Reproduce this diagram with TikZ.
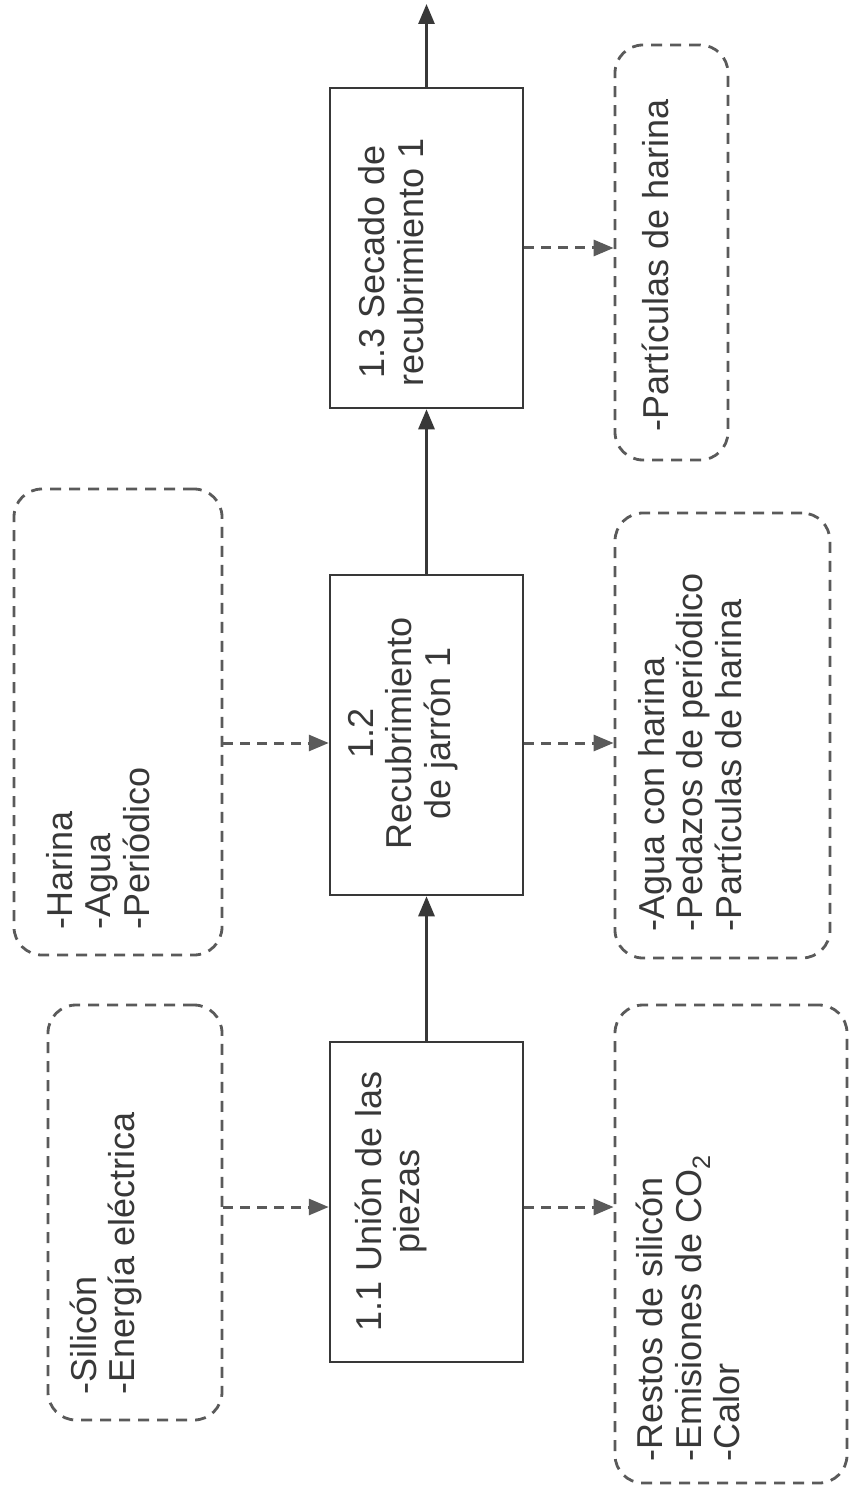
\documentclass[tikz,border=0pt]{standalone}
\usepackage{fontspec}
\setmainfont{Liberation Sans}
\usetikzlibrary{arrows.meta}
\definecolor{ink}{HTML}{383838}
\definecolor{dashgray}{HTML}{5A5A5A}
\begin{document}
\begin{tikzpicture}[x=1pt,y=-1pt,
  procbox/.style={draw=ink,line width=2.5pt,minimum width=193pt,minimum height=320pt,inner sep=0pt},
  flowbox/.style={draw=dashgray,line width=2.8pt,dash pattern=on 11pt off 8pt,rounded corners=28pt,inner sep=0pt},
  txt/.style={rotate=90,font=\fontsize{36}{38.5}\selectfont,text=ink,inner sep=0pt},
  mainarrow/.style={draw=ink,line width=2.8pt,-{Triangle[length=20pt,width=16pt]}},
  dasharrow/.style={draw=dashgray,line width=3pt,dash pattern=on 10pt off 7pt,-{Triangle[length=20pt,width=16pt]}}
]
\useasboundingbox[fill=white] (0,0) rectangle (850,1495);
% process boxes
\node[procbox] (p11) at (426.5,1202) {};
\node[procbox] (p12) at (426.5,735) {};
\node[procbox] (p13) at (426.5,248) {};
\node[txt,align=center] (t11) at (391,1201) {1.1 Unión de las\\piezas};
\node[txt,align=center] (t12) at (403,733) {1.2\\Recubrimiento\\de jarrón 1};
\node[txt,align=center] (t13) at (391,262) {1.3 Secado de\\recubrimiento 1};
% input boxes
\node[flowbox,minimum width=174pt,minimum height=415pt] (in1) at (135,1212.5) {};
\node[flowbox,minimum width=208pt,minimum height=466pt] (in2) at (118,722) {};
% output boxes
\node[flowbox,minimum width=232pt,minimum height=478pt] (out1) at (731,1244) {};
\node[flowbox,minimum width=215pt,minimum height=445pt] (out2) at (722.5,735.5) {};
\node[flowbox,minimum width=113pt,minimum height=415pt] (out3) at (671.5,252.5) {};
% texts of flow boxes
\node[txt,align=left,anchor=west] (ti1) at (106,1395) {-Silicón\\-Energía eléctrica};
\node[txt,align=left,anchor=west] (ti2) at (98,930) {-Harina\\-Agua\\-Periódico};
\node[txt,align=left,anchor=west] (to1) at (688,1462) {-Restos de silicón\\-Emisiones de CO\textsubscript{2}\\-Calor};
\node[txt,align=left,anchor=west] (to2) at (690,932) {-Agua con harina\\-Pedazos de periódico\\-Partículas de harina};
\node[txt,align=left,anchor=west] (to3) at (655,432) {-Partículas de harina};
\coordinate (top) at (426.5,4);
% main flow
\draw[mainarrow] (p11.north) -- (p12.south);
\draw[mainarrow] (p12.north) -- (p13.south);
\draw[mainarrow] (p13.north) -- (top);
% dashed flows
\draw[dasharrow] ([yshift=-5pt]in1.east |- p11.west) -- ([yshift=-5pt]p11.west);
\draw[dasharrow] ([yshift=-8pt]in2.east |- p12.west) -- ([yshift=-8pt]p12.west);
\draw[dasharrow] ([yshift=-5pt]p11.east) -- ([yshift=-5pt]out1.west |- p11.east);
\draw[dasharrow] ([yshift=-8pt]p12.east) -- ([yshift=-8pt]out2.west |- p12.east);
\draw[dasharrow] (p13.east) -- (out3.west |- p13.east);
\end{tikzpicture}
\end{document}
